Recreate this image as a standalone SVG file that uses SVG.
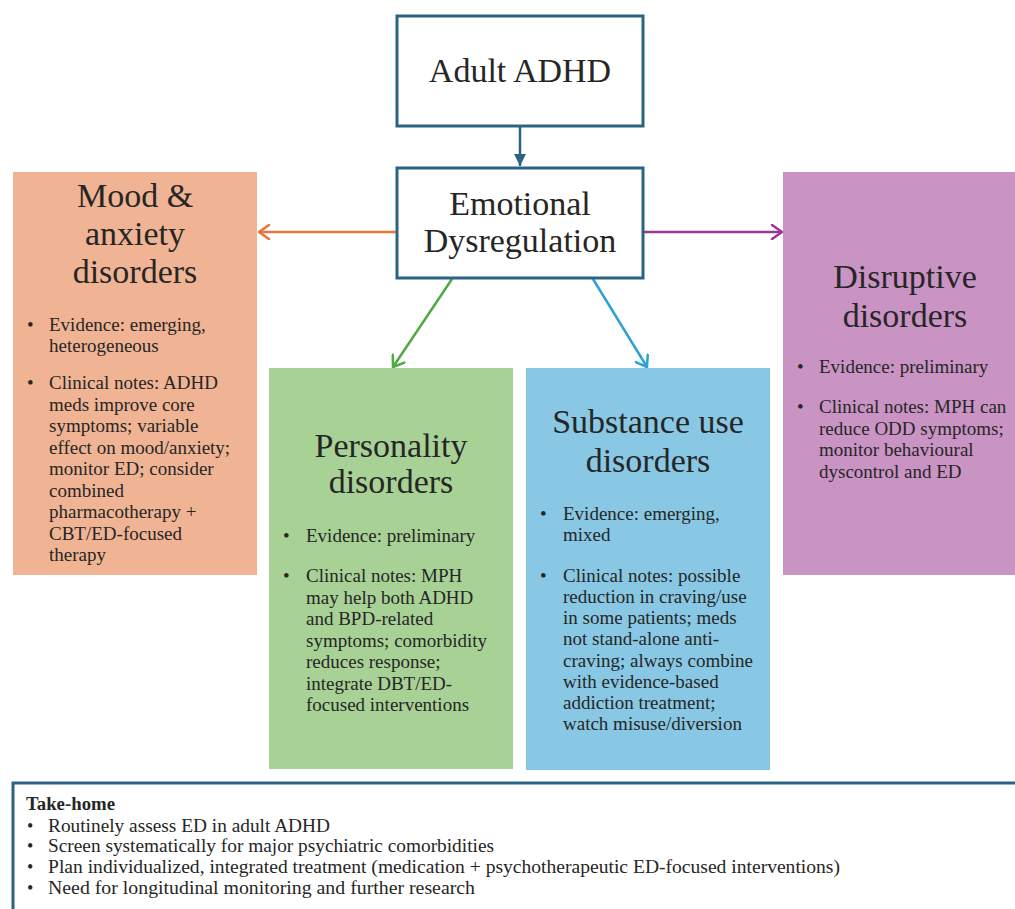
<svg xmlns="http://www.w3.org/2000/svg" width="1015" height="909" viewBox="0 0 1015 909">
<defs>
<style>
text{font-family:"Liberation Serif","DejaVu Serif","Noto Serif",serif;fill:#262626}
.t{font-size:34px;text-anchor:middle}
.b{font-size:19px}
.k{font-size:18px}
.hb{stroke:#2a6384;stroke-width:3;fill:#fff}
.c{fill:none;stroke-width:2.5}
</style>
<marker id="mD" markerUnits="userSpaceOnUse" markerWidth="14" markerHeight="14" refX="12" refY="6" orient="auto"><path d="M0,0 L12,6 L0,12 z" fill="#2a6384"/></marker>
<marker id="mO" markerUnits="userSpaceOnUse" markerWidth="16" markerHeight="16" refX="12" refY="8" orient="auto"><path d="M2,1 L12,8 L2,15" fill="none" stroke="#e8763c" stroke-width="2.5" stroke-linecap="round" stroke-linejoin="round"/></marker>
<marker id="mP" markerUnits="userSpaceOnUse" markerWidth="16" markerHeight="16" refX="12" refY="8" orient="auto"><path d="M2,1 L12,8 L2,15" fill="none" stroke="#9c3797" stroke-width="2.5" stroke-linecap="round" stroke-linejoin="round"/></marker>
<marker id="mG" markerUnits="userSpaceOnUse" markerWidth="16" markerHeight="16" refX="12" refY="8" orient="auto"><path d="M2,1 L12,8 L2,15" fill="none" stroke="#52a845" stroke-width="2.5" stroke-linecap="round" stroke-linejoin="round"/></marker>
<marker id="mB" markerUnits="userSpaceOnUse" markerWidth="16" markerHeight="16" refX="12" refY="8" orient="auto"><path d="M2,1 L12,8 L2,15" fill="none" stroke="#2ea2d5" stroke-width="2.5" stroke-linecap="round" stroke-linejoin="round"/></marker>
</defs>
<rect width="1015" height="909" fill="#fff"/>

<g id="connectors">
<line class="c" x1="520" y1="127" x2="520" y2="166" stroke="#2a6384" marker-end="url(#mD)"/>
<line class="c" x1="397" y1="232" x2="259" y2="232" stroke="#e8763c" marker-end="url(#mO)"/>
<line class="c" x1="643" y1="232" x2="782" y2="232" stroke="#9c3797" marker-end="url(#mP)"/>
<line class="c" x1="452" y1="279" x2="393" y2="367" stroke="#52a845" marker-end="url(#mG)"/>
<line class="c" x1="593" y1="279" x2="647" y2="367" stroke="#2ea2d5" marker-end="url(#mB)"/>
</g>

<g id="adult-adhd">
<rect class="hb" x="397" y="16" width="246" height="110"/>
<text class="t" x="520" y="82">Adult ADHD</text>
</g>

<g id="emotional-dysregulation">
<rect class="hb" x="397" y="168" width="246" height="110"/>
<text class="t" x="520" y="215">Emotional</text>
<text class="t" x="520" y="252">Dysregulation</text>
</g>

<g id="mood-anxiety">
<rect x="13" y="172" width="244" height="403" fill="#f0b494"/>
<text class="t" x="135" y="207">Mood &amp;</text>
<text class="t" x="135" y="245">anxiety</text>
<text class="t" x="135" y="283">disorders</text>
<text class="b" x="27" y="331">•</text>
<text class="b" x="49" y="331">Evidence: emerging,</text>
<text class="b" x="49" y="352">heterogeneous</text>
<text class="b" x="27" y="389">•</text>
<text class="b" x="49" y="389">Clinical notes: ADHD</text>
<text class="b" x="49" y="410.5">meds improve core</text>
<text class="b" x="49" y="432">symptoms; variable</text>
<text class="b" x="49" y="453.5">effect on mood/anxiety;</text>
<text class="b" x="49" y="475">monitor ED; consider</text>
<text class="b" x="49" y="496.5">combined</text>
<text class="b" x="49" y="518">pharmacotherapy +</text>
<text class="b" x="49" y="539.5">CBT/ED-focused</text>
<text class="b" x="49" y="561">therapy</text>
</g>

<g id="personality">
<rect x="269" y="368" width="244" height="401" fill="#a8d196"/>
<text class="t" x="391" y="457">Personality</text>
<text class="t" x="391" y="493">disorders</text>
<text class="b" x="283" y="542">•</text>
<text class="b" x="306" y="542">Evidence: preliminary</text>
<text class="b" x="283" y="582">•</text>
<text class="b" x="306" y="582">Clinical notes: MPH</text>
<text class="b" x="306" y="603.5">may help both ADHD</text>
<text class="b" x="306" y="625">and BPD-related</text>
<text class="b" x="306" y="646.5">symptoms; comorbidity</text>
<text class="b" x="306" y="668">reduces response;</text>
<text class="b" x="306" y="689.5">integrate DBT/ED-</text>
<text class="b" x="306" y="711">focused interventions</text>
</g>

<g id="substance-use">
<rect x="526" y="368" width="244" height="402" fill="#88c8e4"/>
<text class="t" x="648" y="433">Substance use</text>
<text class="t" x="648" y="472">disorders</text>
<text class="b" x="540" y="520">•</text>
<text class="b" x="563" y="520">Evidence: emerging,</text>
<text class="b" x="563" y="541">mixed</text>
<text class="b" x="540" y="582">•</text>
<text class="b" x="563" y="582">Clinical notes: possible</text>
<text class="b" x="563" y="603">reduction in craving/use</text>
<text class="b" x="563" y="624">in some patients; meds</text>
<text class="b" x="563" y="645">not stand-alone anti-</text>
<text class="b" x="563" y="666.5">craving; always combine</text>
<text class="b" x="563" y="687.5">with evidence-based</text>
<text class="b" x="563" y="708.5">addiction treatment;</text>
<text class="b" x="563" y="729.5">watch misuse/diversion</text>
</g>

<g id="disruptive">
<rect x="783" y="172" width="240" height="403" fill="#c993c4"/>
<text class="t" x="905" y="288">Disruptive</text>
<text class="t" x="905" y="327">disorders</text>
<text class="b" x="797" y="373">•</text>
<text class="b" x="819" y="373">Evidence: preliminary</text>
<text class="b" x="797" y="413">•</text>
<text class="b" x="819" y="413">Clinical notes: MPH can</text>
<text class="b" x="819" y="434.5">reduce ODD symptoms;</text>
<text class="b" x="819" y="456">monitor behavioural</text>
<text class="b" x="819" y="477.5">dyscontrol and ED</text>
</g>

<g id="take-home">
<rect x="13" y="783" width="1015" height="140" fill="#fff" stroke="#2a6384" stroke-width="3"/>
<text class="k" x="26" y="810" font-weight="bold" textLength="89" lengthAdjust="spacingAndGlyphs">Take-home</text>
<text class="k" x="27" y="832">•</text>
<text class="k" x="48" y="832" textLength="282" lengthAdjust="spacingAndGlyphs">Routinely assess ED in adult ADHD</text>
<text class="k" x="27" y="852">•</text>
<text class="k" x="48" y="852" textLength="446" lengthAdjust="spacingAndGlyphs">Screen systematically for major psychiatric comorbidities</text>
<text class="k" x="27" y="873">•</text>
<text class="k" x="48" y="873" textLength="792" lengthAdjust="spacingAndGlyphs">Plan individualized, integrated treatment (medication + psychotherapeutic ED-focused interventions)</text>
<text class="k" x="27" y="894">•</text>
<text class="k" x="48" y="894" textLength="427" lengthAdjust="spacingAndGlyphs">Need for longitudinal monitoring and further research</text>
</g>
</svg>
